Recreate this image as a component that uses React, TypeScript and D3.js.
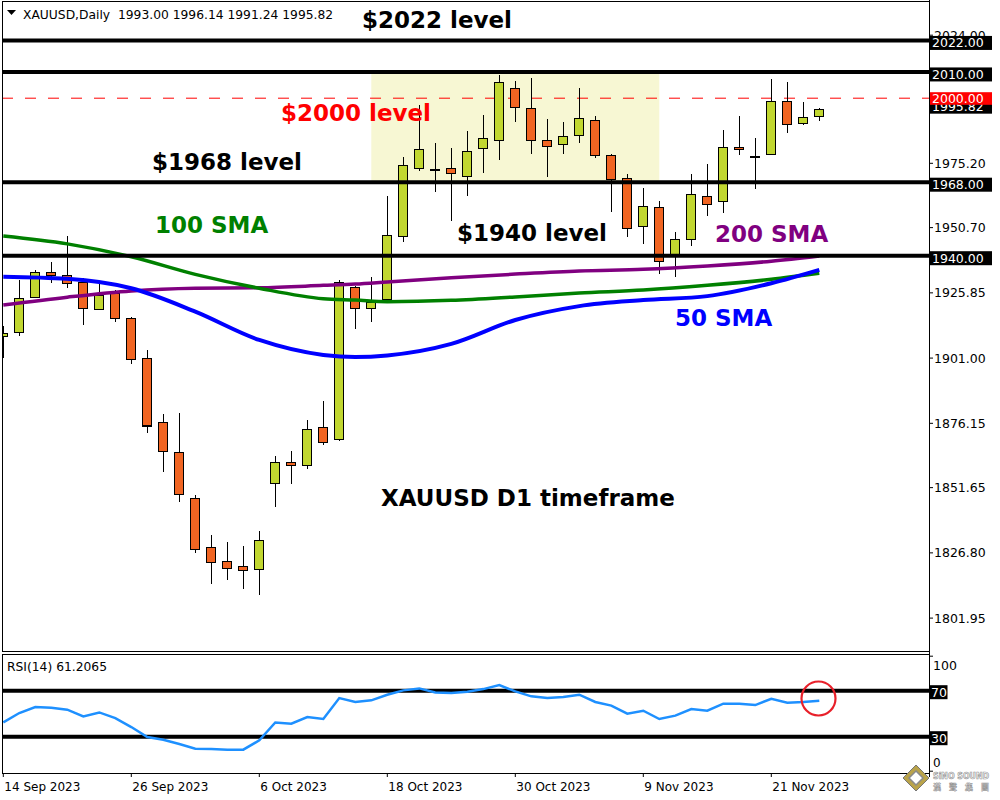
import * as d3 from 'd3';

// daily bars, 14 Sep 2023 - 24 Nov 2023
const dates = [
  '2023-09-14', '2023-09-15', '2023-09-18', '2023-09-19', '2023-09-20', '2023-09-21', '2023-09-22',
  '2023-09-25', '2023-09-26', '2023-09-27', '2023-09-28', '2023-09-29', '2023-10-02', '2023-10-03',
  '2023-10-04', '2023-10-05', '2023-10-06', '2023-10-09', '2023-10-10', '2023-10-11', '2023-10-12',
  '2023-10-13', '2023-10-16', '2023-10-17', '2023-10-18', '2023-10-19', '2023-10-20', '2023-10-23',
  '2023-10-24', '2023-10-25', '2023-10-26', '2023-10-27', '2023-10-30', '2023-10-31', '2023-11-01',
  '2023-11-02', '2023-11-03', '2023-11-06', '2023-11-07', '2023-11-08', '2023-11-09', '2023-11-10',
  '2023-11-13', '2023-11-14', '2023-11-15', '2023-11-16', '2023-11-17', '2023-11-20', '2023-11-21',
  '2023-11-22', '2023-11-23', '2023-11-24',
];
const open = [
  1909.3, 1910.7, 1924.1, 1933.6, 1932.4, 1929.9, 1919.5, 1925.6, 1916.0, 1900.8, 1876.5, 1865.0, 1847.5,
  1828.9, 1823.5, 1821.6, 1820.5, 1853.2, 1861.2, 1860.1, 1874.5, 1869.9, 1927.9, 1919.9, 1923.4, 1947.3,
  1973.2, 1972.7, 1973.2, 1970.1, 1980.8, 1983.8, 2003.6, 1996.0, 1983.8, 1982.4, 1985.7, 1991.5, 1978.2,
  1969.4, 1951.1, 1958.3, 1939.8, 1946.1, 1962.5, 1960.6, 1981.2, 1977.6, 1978.5, 1998.7, 1990.4, 1993.0,
];
const high = [
  1913.1, 1930.6, 1934.5, 1937.5, 1947.4, 1931.4, 1929.4, 1926.8, 1916.8, 1904.0, 1879.6, 1880.0, 1849.0,
  1833.5, 1830.9, 1829.3, 1835.1, 1863.6, 1865.5, 1877.3, 1884.8, 1930.9, 1928.4, 1932.0, 1962.7, 1977.7,
  1997.3, 1982.8, 1980.9, 1987.5, 1993.5, 2009.0, 2006.7, 2007.8, 1992.2, 1991.1, 2004.0, 1993.4, 1978.8,
  1971.0, 1965.7, 1961.0, 1949.2, 1971.0, 1975.1, 1988.0, 1993.4, 1985.0, 2007.4, 2006.3, 1998.7, 1996.14,
];
const low = [
  1901.0, 1909.4, 1923.9, 1929.6, 1927.7, 1913.6, 1919.5, 1914.8, 1898.8, 1872.6, 1857.7, 1846.2, 1826.8,
  1815.1, 1816.6, 1812.9, 1810.6, 1844.1, 1852.9, 1858.6, 1867.7, 1869.5, 1912.0, 1914.7, 1923.1, 1945.2,
  1972.3, 1964.3, 1953.2, 1962.8, 1971.5, 1976.6, 1991.1, 1978.9, 1969.8, 1978.7, 1983.1, 1977.4, 1956.7,
  1947.1, 1944.5, 1933.2, 1931.7, 1943.7, 1955.3, 1956.4, 1978.5, 1965.6, 1978.3, 1986.9, 1989.6, 1991.24,
];
const close = [
  1910.5, 1923.7, 1933.6, 1932.4, 1929.4, 1919.9, 1924.9, 1916.0, 1900.4, 1875.1, 1865.4, 1849.0, 1828.1,
  1823.2, 1820.9, 1820.1, 1831.5, 1861.2, 1860.1, 1873.8, 1868.9, 1929.8, 1919.9, 1922.1, 1947.8, 1974.3,
  1980.4, 1972.7, 1971.3, 1979.7, 1984.6, 2005.9, 1996.4, 1983.8, 1981.6, 1985.4, 1992.2, 1978.2, 1969.0,
  1950.3, 1958.7, 1937.8, 1946.1, 1963.3, 1959.5, 1981.2, 1980.4, 1977.6, 1998.7, 1989.9, 1992.6, 1995.82,
];

// RSI(14), one value per bar
const rsi = [
  42.5, 50.6, 55.8, 55.2, 53.5, 47.7, 51.1, 46.2, 38.4, 29.7, 27.4, 23.6, 19.6, 19.3, 18.7, 18.7, 26.8,
  42.4, 41.3, 47.1, 45.4, 63.6, 60.2, 61.6, 66.5, 70.3, 72.0, 68.5, 68.0, 69.1, 71.4, 74.9, 69.4, 65.1,
  63.6, 64.5, 66.5, 60.2, 57.0, 50.0, 52.6, 45.4, 48.3, 54.1, 52.6, 58.7, 58.7, 57.5, 63.0, 59.6, 60.2, 61.2,
];

// moving averages read at these bars
const smaIdx = [0, 4, 8, 12, 16, 20, 22, 24, 28, 32, 36, 40, 44, 48, 51];
const sma50 = [1932.0, 1931.2, 1927.6, 1918.7, 1907.9, 1902.2, 1901.4, 1902.0, 1906.4, 1915.5, 1920.8, 1923.1, 1924.6, 1929.5, 1934.6];
const sma100 = [1947.5, 1944.5, 1939.6, 1932.9, 1927.6, 1923.6, 1923.1, 1922.5, 1923.0, 1924.3, 1925.8, 1926.9, 1928.7, 1931.0, 1933.3];
const sma200 = [1921.2, 1924.2, 1926.6, 1927.6, 1927.8, 1928.7, 1929.2, 1930.0, 1931.6, 1933.0, 1934.2, 1934.8, 1936.1, 1937.9, 1939.9];

const levels = [2022, 2010, 1968, 1940];
const dashedLevel = 2000;
const lastPrice = 1995.82;
const priceTicks = [2024.0, 1975.2, 1950.7, 1925.85, 1901.0, 1876.15, 1851.65, 1826.8, 1801.95];
const dateTickIdx = [0, 8, 16, 24, 32, 40, 48];
const rsiLevels = [70, 30];
const rsiValue = '61.2065';
const headerText = 'XAUUSD,Daily  1993.00 1996.14 1991.24 1995.82';
// highlighted consolidation zone: bars 23..41, 1968..2010
const zoneBars = [23, 41];
const zonePrices = [1968, 2010];

const UP = '#c1d730';
const DOWN = '#f16522';
const FONT = '"DejaVu Sans", Verdana, sans-serif';

export default function App() {
  const left = 2, right = 929;
  const mainTop = 1, mainBottom = 651.5, rsiTop = 654, rsiBottom = 773;

  const x = d3.scaleLinear().domain([0, 51]).range([3.3, 819.3]);
  const y = d3.scaleLinear().domain([1801.95, 1975.2]).range([618.1, 163.3]);
  const ry = d3.scaleLinear().domain([0, 100]).range([771.2, 656.2]);
  const parse = d3.timeParse('%Y-%m-%d');
  const fmt = d3.timeFormat('%-d %b %Y');

  const smaLine = d3.line<number>()
    .x((_, k) => x(smaIdx[k]))
    .y(v => y(v))
    .curve(d3.curveMonotoneX);
  const rsiLine = d3.line<number>().x((_, i) => x(i)).y(v => ry(v));

  const annot = (t: string, px: number, py: number, fill: string) => (
    <text x={px} y={py} fill={fill} fontFamily={FONT} fontWeight="bold" fontSize={23}>{t}</text>
  );

  const boxLabel = (txt: string, cy: number, bg: string, key: string) => (
    <g key={key}>
      <rect x={930} y={cy - 4.5} width={62} height={14} fill={bg} />
      <text x={932} y={cy + 7} fill="#fff" fontFamily={FONT} fontSize={12.5}>{txt}</text>
    </g>
  );

  return (
    <svg width={1000} height={800} style={{ position: 'absolute', left: 0, top: 0, background: '#fff' }}>
      <defs>
        <clipPath id="mainClip"><rect x={left} y={mainTop} width={right - left} height={mainBottom - mainTop} /></clipPath>
        <clipPath id="rsiClip"><rect x={left} y={rsiTop} width={right - left} height={rsiBottom - rsiTop} /></clipPath>
      </defs>
      <rect x={0} y={0} width={1000} height={800} fill="#fff" />

      {/* main panel */}
      <g clipPath="url(#mainClip)">
        <rect x={x(zoneBars[0])} y={y(zonePrices[1])} width={x(zoneBars[1]) - x(zoneBars[0])}
          height={y(zonePrices[0]) - y(zonePrices[1])} fill="#f7f7d3" />
        <line x1={left} x2={right} y1={y(dashedLevel)} y2={y(dashedLevel)} stroke="#ff0000" strokeDasharray="11,12" />

        {dates.map((d, i) => {
          const cx = x(i);
          const o = open[i], c = close[i];
          const top = y(Math.max(o, c)), bot = y(Math.min(o, c));
          return (
            <g key={d} shapeRendering="crispEdges">
              <line x1={cx} x2={cx} y1={y(high[i])} y2={y(low[i])} stroke="#000" strokeWidth={1} />
              {o === c
                ? <rect x={cx - 5} y={top - 1} width={10} height={2} fill="#000" />
                : <rect x={cx - 4.5} y={top} width={9} height={Math.max(bot - top, 1)}
                    fill={c > o ? UP : DOWN} stroke="#000" strokeWidth={1.2} />}
            </g>
          );
        })}

        <path d={smaLine(sma200) || ''} fill="none" stroke="#800080" strokeWidth={3.5} />
        <path d={smaLine(sma100) || ''} fill="none" stroke="#008000" strokeWidth={3.5} />
        <path d={smaLine(sma50) || ''} fill="none" stroke="#0000ff" strokeWidth={4} />

        {levels.map(l => (
          <line key={l} x1={left} x2={right} y1={y(l)} y2={y(l)} stroke="#000" strokeWidth={4} />
        ))}
      </g>

      {/* header */}
      <path d="M7,10 L16,10 L11.5,15 Z" fill="#000" />
      <text x={23} y={18.5} fontFamily={FONT} fontSize={12.3} style={{ whiteSpace: 'pre' }}>{headerText}</text>

      {annot('$2022 level', 362, 27.5, '#000')}
      {annot('$2000 level', 281, 121, '#ff0000')}
      {annot('$1968 level', 152, 170, '#000')}
      {annot('100 SMA', 155, 233, '#008000')}
      {annot('$1940 level', 457, 240.5, '#000')}
      {annot('200 SMA', 715, 241.5, '#800080')}
      {annot('50 SMA', 675, 326, '#0000ff')}
      {annot('XAUUSD D1 timeframe', 381, 506, '#000')}

      {/* RSI panel */}
      <g clipPath="url(#rsiClip)">
        {rsiLevels.map(l => (
          <line key={l} x1={left} x2={right} y1={ry(l)} y2={ry(l)} stroke="#000" strokeWidth={4} />
        ))}
        <path d={rsiLine(rsi) || ''} fill="none" stroke="#1e90ff" strokeWidth={2.5} />
      </g>
      <circle cx={818.5} cy={698.5} r={17} fill="none" stroke="#e8202a" strokeWidth={2.2} />
      <text x={7} y={671} fontFamily={FONT} fontSize={12.3}>RSI(14) {rsiValue}</text>

      {/* frames */}
      <g fill="none" stroke="#000" strokeWidth={1} shapeRendering="crispEdges">
        <line x1={left} x2={right} y1={mainTop} y2={mainTop} />
        <line x1={left} x2={left} y1={mainTop} y2={mainBottom} />
        <line x1={left} x2={right} y1={mainBottom} y2={mainBottom} />
        <line x1={left} x2={right} y1={rsiTop} y2={rsiTop} />
        <line x1={left} x2={left} y1={rsiTop} y2={rsiBottom} />
        <line x1={left} x2={right} y1={rsiBottom} y2={rsiBottom} />
        <line x1={right} x2={right} y1={0} y2={777} />
      </g>

      {/* price axis */}
      {priceTicks.map(p => (
        <g key={p}>
          <line x1={right} x2={right + 4} y1={y(p)} y2={y(p)} stroke="#000" />
          <text x={934} y={y(p) + 4.5} fontFamily={FONT} fontSize={12.5}>{p.toFixed(2)}</text>
        </g>
      ))}
      {levels.map(l => boxLabel(l.toFixed(2), y(l), '#000', 'lv' + l))}
      {boxLabel(lastPrice.toFixed(2), y(lastPrice) - 5, '#000', 'last')}
      <rect x={930} y={y(dashedLevel) - 6} width={62} height={12.6} fill="#ff0000" />
      <text x={932} y={y(dashedLevel) + 4.5} fill="#fff" fontFamily={FONT} fontSize={12.5}>{dashedLevel.toFixed(2)}</text>

      {/* RSI axis */}
      <line x1={right} x2={right + 4} y1={ry(100)} y2={ry(100)} stroke="#000" />
      <line x1={right} x2={right + 4} y1={ry(0)} y2={ry(0)} stroke="#000" />
      <text x={933} y={669.5} fontFamily={FONT} fontSize={12.5}>100</text>
      <text x={933} y={766.5} fontFamily={FONT} fontSize={12}>0</text>
      {rsiLevels.map(l => (
        <g key={'r' + l}>
          <rect x={930} y={ry(l) - 5.5} width={17.5} height={14} fill="#000" />
          <text x={931} y={ry(l) + 6} fill="#fff" fontFamily={FONT} fontSize={12.5}>{l}</text>
        </g>
      ))}

      {/* date axis */}
      {dateTickIdx.map(i => (
        <g key={'d' + i}>
          <line x1={x(i)} x2={x(i)} y1={rsiBottom} y2={rsiBottom + 4} stroke="#000" />
          <text x={x(i) + 1} y={790.5} fontFamily={FONT} fontSize={12}>{fmt(parse(dates[i]) as Date)}</text>
        </g>
      ))}

      {/* watermark */}
      <g>
        <path d="M916,765 L929,778 L916,791 L903,778 Z" fill="#b9a34a" stroke="#777" strokeWidth={1} />
        <path d="M916,771 L923,778 L916,785 L909,778 Z" fill="#fff" stroke="#8a8a8a" strokeWidth={1.5} />
        <text x={933} y={779} fill="#fff" stroke="#999" strokeWidth={0.7} fontFamily={FONT} fontWeight="bold"
          fontSize={8.5} textLength={56} lengthAdjust="spacingAndGlyphs">SiNO SOUND</text>
        <text x={933} y={789.5} fill="#fff" stroke="#999" strokeWidth={0.5} fontFamily='"Noto Sans CJK TC", sans-serif'
          fontWeight="bold" fontSize={8} textLength={56}>漢聲集團</text>
      </g>
    </svg>
  );
}
